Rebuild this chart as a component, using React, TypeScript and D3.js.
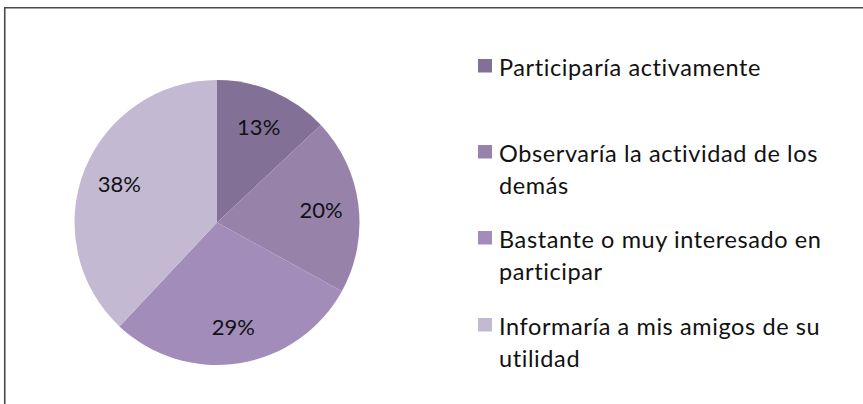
import React from "react";
import * as d3 from "d3";

const categories = [
  "Participaría activamente",
  "Observaría la actividad de los demás",
  "Bastante o muy interesado en participar",
  "Informaría a mis amigos de su utilidad",
];
const values = [13, 20, 29, 38];
const colors = ["#827096", "#9782aa", "#a28cba", "#c3b9d2"];
const legendLines = [
  ["Participaría activamente"],
  ["Observaría la actividad de los", "demás"],
  ["Bastante o muy interesado en", "participar"],
  ["Informaría a mis amigos de su", "utilidad"],
];
const legendBaselines = [76, 162, 248, 335];

const W = 863;
const H = 404;
const cx = 217;
const cy = 222.5;
const R = 142.5;
const FONT = "Lato, 'Open Sans', sans-serif";

export default function App() {
  const pie = d3.pie<number>().sort(null).value((d) => d)(values);
  const arc = d3.arc<d3.PieArcDatum<number>>().innerRadius(0).outerRadius(R);
  const labelArc = d3
    .arc<d3.PieArcDatum<number>>()
    .innerRadius(105)
    .outerRadius(105);
  const total = d3.sum(values);
  return (
    <svg
      width={W}
      height={H}
      style={{ position: "absolute", left: 0, top: 0, background: "#fff" }}
    >
      <rect x={0} y={0} width={W} height={H} fill="#fff" />
      <path
        d={`M4.75,${H + 2} V7.75 H${W + 2}`}
        fill="none"
        stroke="#4a4a4a"
        strokeWidth={1.6}
      />
      <g transform={`translate(${cx},${cy})`}>
        {pie.map((p, i) => (
          <path key={i} d={arc(p) || ""} fill={colors[i]} />
        ))}
        {pie.map((p, i) => {
          const [x, y] = labelArc.centroid(p);
          return (
            <text
              key={"l" + i}
              x={x}
              y={y}
              textAnchor="middle"
              dominantBaseline="central"
              fontFamily={FONT}
              fontSize={22}
              fill="#111"
            >
              {Math.round((p.value / total) * 100)}%
            </text>
          );
        })}
      </g>
      <g>
        {categories.map((c, i) => (
          <g key={c}>
            <rect
              x={478}
              y={legendBaselines[i] - 17}
              width={14}
              height={13.5}
              fill={colors[i]}
            />
            {legendLines[i].map((ln, j) => (
              <text
                key={j}
                x={499}
                y={legendBaselines[i] + j * 31.5}
                fontFamily={FONT}
                fontSize={23.5}
                letterSpacing={0.6}
                fill="#111"
              >
                {ln}
              </text>
            ))}
          </g>
        ))}
      </g>
    </svg>
  );
}
